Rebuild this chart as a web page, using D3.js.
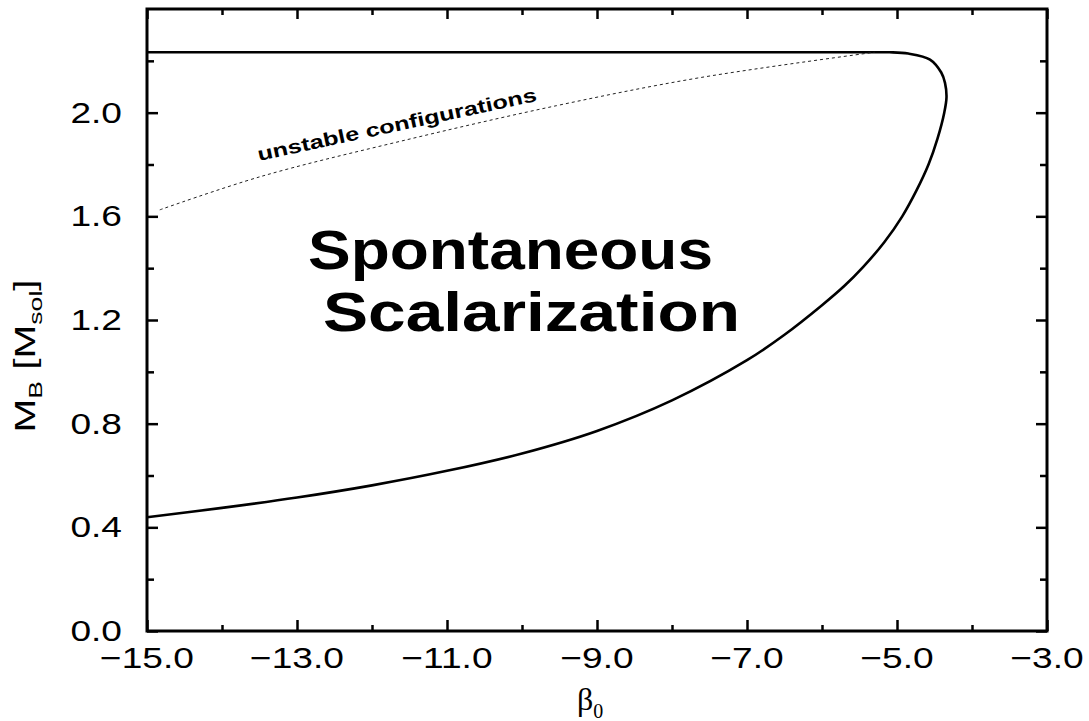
<!DOCTYPE html>
<html>
<head>
<meta charset="utf-8">
<script src="https://cdn.jsdelivr.net/npm/d3@7"></script>
<style>
  html, body { margin: 0; padding: 0; background: #fff; }
  svg { display: block; }
</style>
</head>
<body>
<div id="chart"></div>
<script>
// ---- data ----
// boundary of the scalarization region: lower branch, nose, then the flat top back to -15
var boundaryBeta = [-15.0, -14.0, -13.0, -12.0, -11.0, -10.0, -9.0, -8.0, -7.0, -6.5, -6.0, -5.7, -5.45,
                    -5.17, -4.93, -4.74, -4.58, -4.46, -4.37, -4.34, -4.36, -4.41, -4.56, -4.85, -5.1, -5.4, -15.0];
var boundaryMass = [0.439, 0.475, 0.515, 0.562, 0.618, 0.685, 0.772, 0.89, 1.045, 1.143, 1.257, 1.332, 1.405,
                    1.50, 1.60, 1.70, 1.80, 1.90, 2.00, 2.06, 2.115, 2.155, 2.205, 2.228, 2.233, 2.233, 2.233];

// dotted line of unstable configurations
var unstableBeta = [-14.83, -13.49, -11.63, -9.54, -7.63, -5.3];
var unstableMass = [1.625, 1.753, 1.889, 2.027, 2.135, 2.233];

var xMajor = [-15, -13, -11, -9, -7, -5, -3];
var xMinor = [-14, -12, -10, -8, -6, -4];
var yMajor = [0, 0.4, 0.8, 1.2, 1.6, 2.0];
var yMinor = [0.2, 0.6, 1.0, 1.4, 1.8, 2.2];

var regionLabel = ["Spontaneous", "Scalarization"];
var unstableLabel = "unstable configurations";

var W = 1089, H = 721;
var sans = "'Liberation Sans', Arial, Helvetica, sans-serif";
var serif = "'Liberation Serif', 'Times New Roman', serif";

var svg = d3.select("#chart").append("svg").attr("width", W).attr("height", H);
svg.append("rect").attr("width", W).attr("height", H).style("fill", "#fff");

var x = d3.scaleLinear().domain([-15, -3]).range([147, 1047]);
var y = d3.scaleLinear().domain([0, 2.4]).range([631, 9]);

//---------------- ticks (all four sides, pointing in) ----------------
function tickAxis(axisFn, scale, values, size, tx, ty) {
    var g = svg.append("g").attr("transform", "translate(" + tx + "," + ty + ")")
        .call(axisFn(scale).tickValues(values).tickSize(size).tickFormat(""));
    g.select(".domain").remove();
    g.selectAll(".tick line").style("stroke", "#000").style("stroke-width", 2.5);
}
tickAxis(d3.axisBottom, x, xMajor, -11, 0, y(0));
tickAxis(d3.axisBottom, x, xMinor, -6, 0, y(0));
tickAxis(d3.axisTop, x, xMajor, -10, 0, y(2.4));
tickAxis(d3.axisTop, x, xMinor, -6, 0, y(2.4));
tickAxis(d3.axisLeft, y, yMajor, -11, x(-15), 0);
tickAxis(d3.axisLeft, y, yMinor, -7, x(-15), 0);
tickAxis(d3.axisRight, y, yMajor, -11, x(-3), 0);
tickAxis(d3.axisRight, y, yMinor, -7, x(-3), 0);

// frame
svg.append("rect").attr("x", x(-15)).attr("y", y(2.4))
    .attr("width", x(-3) - x(-15)).attr("height", y(0) - y(2.4))
    .style("fill", "none").style("stroke", "#000").style("stroke-width", 3);

//---------------- tick labels ----------------
svg.append("g").selectAll("g").data(xMajor).join("g")
    .attr("transform", function(d){ return "translate(" + x(d) + ",668)"; })
  .append("text")
    .attr("text-anchor", "middle").attr("transform", "scale(1.28,1)")
    .style("font-family", sans).style("font-size", "29px")
    .text(function(d){ return d3.format(".1f")(d).replace("-", "\u2212"); });

svg.append("g").selectAll("g").data(yMajor).join("g")
    .attr("transform", function(d){ return "translate(122," + (y(d) + 10) + ")"; })
  .append("text")
    .attr("text-anchor", "end").attr("transform", "scale(1.28,1)")
    .style("font-family", sans).style("font-size", "29px")
    .text(function(d){ return d3.format(".1f")(d); });

//---------------- curves ----------------
var line = d3.line().x(function(d){ return x(d[0]); }).y(function(d){ return y(d[1]); })
    .curve(d3.curveCatmullRom.alpha(0.5));

svg.append("path").datum(d3.zip(boundaryBeta, boundaryMass)).attr("d", line)
    .style("fill", "none").style("stroke", "#000").style("stroke-width", 2.6)
    .style("stroke-linejoin", "round");

svg.append("path").datum(d3.zip(unstableBeta, unstableMass)).attr("d", line)
    .style("fill", "none").style("stroke", "#222").style("stroke-width", 1)
    .style("stroke-dasharray", "3,3");

//---------------- annotations ----------------
svg.append("text").attr("x", 308).attr("y", 269)
    .attr("textLength", 405).attr("lengthAdjust", "spacingAndGlyphs")
    .style("font-family", sans).style("font-weight", "bold").style("font-size", "55px")
    .text(regionLabel[0]);
svg.append("text").attr("x", 323).attr("y", 331)
    .attr("textLength", 417).attr("lengthAdjust", "spacingAndGlyphs")
    .style("font-family", sans).style("font-weight", "bold").style("font-size", "55px")
    .text(regionLabel[1]);

svg.append("g").attr("transform", "translate(259,161) rotate(-12.2)")
  .append("text")
    .attr("textLength", 285).attr("lengthAdjust", "spacingAndGlyphs")
    .style("font-family", sans).style("font-weight", "bold").style("font-size", "19px")
    .text(unstableLabel);

//---------------- axis titles ----------------
var yt = svg.append("g").attr("transform", "translate(35,356) rotate(-90) scale(1.4,1)")
  .append("text").attr("text-anchor", "middle")
    .style("font-family", sans).style("font-size", "29px");
yt.append("tspan").text("M");
yt.append("tspan").attr("dy", 7).style("font-size", "19px").text("B");
yt.append("tspan").attr("dy", -7).text(" [M");
yt.append("tspan").attr("dy", 7).style("font-size", "19px").text("sol");
yt.append("tspan").attr("dy", -7).text("]");

var xt = svg.append("text").attr("x", 577).attr("y", 710).style("font-family", serif);
xt.append("tspan").style("font-size", "32px").text("\u03b2");
xt.append("tspan").attr("dy", 8).style("font-size", "20px").text("0");
</script>
</body>
</html>
